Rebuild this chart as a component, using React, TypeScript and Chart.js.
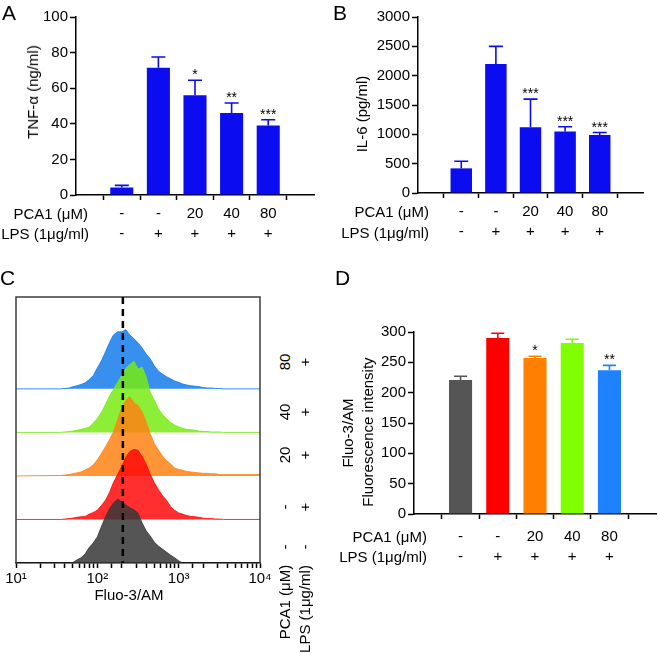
import React, { useEffect, useRef } from 'react';
import { Chart, registerables } from 'chart.js';
Chart.register(...registerables);

// ---------- data ----------
const PCA1_DOSES = ['-', '-', '20', '40', '80'];
const LPS_FLAGS = ['-', '+', '+', '+', '+'];

const TNF_MEAN = [4.2, 71.5, 56, 46, 39];
const TNF_SD = [1.2, 6, 8.5, 5.7, 3.3];
const TNF_STARS = ['', '', '*', '**', '***'];

const IL6_MEAN = [420, 2200, 1120, 1050, 990];
const IL6_SD = [120, 300, 480, 80, 40];
const IL6_STARS = ['', '', '***', '***', '***'];

const FLUO_MEAN = [221, 290, 257, 282, 237];
const FLUO_SD = [6, 8, 3, 6, 8];
const FLUO_STARS = ['', '', '*', '', '**'];

// flow cytometry histogram bins (Fluo-3/AM intensity) and counts per lane
const FLUO_BINS = [10, 35, 40, 45, 50, 56, 63, 71, 79, 89, 100, 112, 126, 141, 158, 178, 200, 224, 251, 282, 316, 355, 398, 447, 501, 562, 631, 708, 794, 891, 1000, 1122, 1259, 1413, 1585, 1778, 1995, 2239, 2512, 2818, 3162, 3548, 10000];
const HIST_CTRL = [0, 0, 0, 0, 1, 7, 12, 21, 35, 46, 60, 83, 106, 124, 138, 147, 140, 133, 127, 122, 115, 92, 74, 62, 48, 39, 32, 25, 18, 12, 5, 0, 0, 0, 0, 0, 0, 0, 0, 0, 0, 0, 0];
const HIST_LPS = [0, 0, 1, 2, 3, 5, 6, 7, 12, 16, 21, 32, 44, 62, 85, 104, 122, 143, 156, 161, 159, 145, 127, 104, 85, 69, 55, 44, 30, 21, 15, 12, 9, 7, 6, 5, 3, 2, 2, 1, 1, 0, 0];
const HIST_PCA20 = [0, 1, 2, 3, 5, 7, 9, 14, 18, 25, 37, 51, 67, 83, 101, 129, 156, 173, 182, 168, 161, 147, 124, 97, 74, 60, 46, 35, 28, 18, 15, 13, 10, 9, 8, 7, 6, 6, 5, 5, 3, 3, 3];
const HIST_PCA40 = [0, 0, 1, 2, 3, 5, 7, 9, 12, 21, 32, 46, 64, 83, 99, 115, 131, 147, 156, 163, 145, 150, 127, 92, 74, 55, 41, 32, 23, 17, 13, 9, 7, 6, 5, 3, 2, 2, 1, 1, 1, 0, 0];
const HIST_PCA80 = [0, 0, 1, 2, 5, 7, 10, 14, 21, 30, 48, 64, 85, 106, 124, 131, 131, 136, 124, 115, 106, 94, 80, 69, 53, 41, 34, 28, 23, 18, 15, 11, 9, 7, 6, 5, 3, 2, 2, 1, 1, 0, 0];
const HIST_LANE_STEP = 100;
const HIST_Y_MAX = 611;
const GATE_VALUE = 206;
const FLUO_DECADES = [10, 100, 1000, 10000];
const FLUO_DECADE_LABELS = ['10\u00b9', '10\u00b2', '10\u00b3', '10\u2074'];

// ---------- styles ----------
const FONT = "'Liberation Sans', Arial, Helvetica, sans-serif";
const BLUE_AB = 'rgb(12,12,240)';
const D_COLORS = ['rgb(85,85,85)', 'rgb(255,0,0)', 'rgb(255,128,0)', 'rgb(128,255,0)', 'rgb(30,130,255)'];
const HIST_FILL = ['rgba(55,55,55,0.85)', 'rgba(255,10,10,0.85)', 'rgba(255,130,20,0.85)', 'rgba(120,235,20,0.85)', 'rgba(20,125,235,0.85)'];

function errorPlugin(means: number[], sds: number[], stars: string[], colors: string[], cap: number) {
  return {
    id: 'errbars',
    afterDatasetsDraw(chart: any) {
      const meta = chart.getDatasetMeta(0);
      const ys = chart.scales.y;
      const ctx = chart.ctx;
      ctx.save();
      meta.data.forEach((bar: any, i: number) => {
        const top = ys.getPixelForValue(means[i] + sds[i]);
        const base = ys.getPixelForValue(means[i]);
        ctx.strokeStyle = colors[i];
        ctx.lineWidth = 1.6;
        ctx.beginPath();
        ctx.moveTo(bar.x, base);
        ctx.lineTo(bar.x, top);
        ctx.moveTo(bar.x - cap / 2, top);
        ctx.lineTo(bar.x + cap / 2, top);
        ctx.stroke();
        if (stars[i]) {
          ctx.fillStyle = '#000';
          ctx.font = `14px ${FONT}`;
          ctx.textAlign = 'center';
          ctx.textBaseline = 'alphabetic';
          ctx.fillText(stars[i], bar.x, top - 1);
        }
      });
      ctx.restore();
    },
  };
}

function barConfig(o: any) {
  const colors = Array.isArray(o.colors) ? o.colors : o.means.map(() => o.colors);
  return {
    type: 'bar',
    data: {
      datasets: [
        {
          data: o.means.map((m: number, i: number) => ({ x: i, y: m })),
          backgroundColor: colors,
          borderWidth: 0,
          categoryPercentage: 1,
          barPercentage: o.barPct,
        },
      ],
    },
    options: {
      responsive: false,
      animation: false,
      events: [],
      layout: { padding: { top: o.padTop, right: o.padRight, left: 0, bottom: 0 } },
      plugins: { legend: { display: false }, tooltip: { enabled: false } },
      scales: {
        x: {
          type: 'linear',
          min: -0.6,
          max: 4.6,
          grid: { drawOnChartArea: false, drawTicks: true, tickLength: 5, tickWidth: 1.5, tickColor: '#000' },
          border: { color: '#000', width: 1.5 },
          ticks: {
            stepSize: 1,
            includeBounds: false,
            autoSkip: false,
            maxRotation: 0,
            padding: o.labelPad,
            color: '#000',
            font: { family: FONT, size: 15, lineHeight: '20px' },
            callback: (v: number) =>
              Number.isInteger(v) && v >= 0 && v < PCA1_DOSES.length ? [PCA1_DOSES[v], LPS_FLAGS[v]] : '',
          },
          afterFit: (s: any) => {
            s.height = o.xHeight;
          },
        },
        y: {
          min: 0,
          max: o.yMax,
          grid: { drawOnChartArea: false, drawTicks: true, tickLength: 6, tickWidth: 1.5, tickColor: '#000' },
          border: { color: '#000', width: 1.5 },
          ticks: {
            stepSize: o.yStep,
            padding: 2,
            color: '#000',
            font: { family: FONT, size: 15 },
            callback: (v: number) => String(v),
          },
          afterFit: (s: any) => {
            s.width = o.yWidth;
          },
        },
      },
    },
    plugins: [errorPlugin(o.means, o.sds, o.stars, colors, o.cap)],
  };
}

function histConfig() {
  const lanes = [HIST_CTRL, HIST_LPS, HIST_PCA20, HIST_PCA40, HIST_PCA80];
  const framePlugin = {
    id: 'frame',
    afterDatasetsDraw(chart: any) {
      const { ctx, chartArea: a } = chart;
      const xs = chart.scales.x;
      ctx.save();
      ctx.strokeStyle = '#3c3c3c';
      ctx.lineWidth = 1.5;
      ctx.beginPath();
      ctx.moveTo(a.left, a.bottom);
      ctx.lineTo(a.left, a.top);
      ctx.lineTo(a.right, a.top);
      ctx.lineTo(a.right, a.bottom);
      ctx.stroke();
      const gx = xs.getPixelForValue(GATE_VALUE);
      ctx.strokeStyle = '#000';
      ctx.lineWidth = 2.5;
      ctx.setLineDash([7, 5]);
      ctx.beginPath();
      ctx.moveTo(gx, a.top);
      ctx.lineTo(gx, a.bottom);
      ctx.stroke();
      ctx.restore();
    },
  };
  return {
    type: 'line',
    data: {
      datasets: lanes.map((h, k) => ({
        data: FLUO_BINS.map((x, j) => ({ x, y: k * HIST_LANE_STEP + h[j] })),
        fill: { value: k * HIST_LANE_STEP },
        backgroundColor: HIST_FILL[k],
        borderColor: HIST_FILL[k],
        borderWidth: 1,
        pointRadius: 0,
        tension: 0,
        order: k,
      })),
    },
    options: {
      responsive: false,
      animation: false,
      events: [],
      layout: { padding: { top: 12, left: 16, right: 15, bottom: 0 } },
      plugins: { legend: { display: false }, tooltip: { enabled: false } },
      scales: {
        x: {
          type: 'logarithmic',
          min: 10,
          max: 10000,
          grid: { drawOnChartArea: false, drawTicks: true, tickLength: 5, tickWidth: 1.5, tickColor: '#000' },
          border: { color: '#000', width: 1.5 },
          ticks: {
            autoSkip: false,
            maxRotation: 0,
            padding: 2,
            color: '#000',
            font: { family: FONT, size: 15 },
            callback: (v: number) => {
              const i = FLUO_DECADES.findIndex((d) => Math.abs(d - v) < d * 1e-6);
              return i >= 0 ? FLUO_DECADE_LABELS[i] : '';
            },
          },
          afterFit: (s: any) => {
            s.height = 52;
          },
        },
        y: { display: false, min: 0, max: HIST_Y_MAX },
      },
    },
    plugins: [framePlugin],
  };
}

const txt: React.CSSProperties = {
  position: 'absolute',
  fontFamily: FONT,
  fontSize: 15,
  color: '#000',
  whiteSpace: 'nowrap',
  lineHeight: '20px',
};

function RightLabel({ rx, cy, children }: any) {
  return (
    <div style={{ ...txt, right: 658 - rx, top: cy - 10, textAlign: 'right' }}>{children}</div>
  );
}
function CenterLabel({ cx, cy, rotate, size, children }: any) {
  return (
    <div
      style={{
        ...txt,
        fontSize: size || 15,
        left: cx,
        top: cy,
        transform: `translate(-50%,-50%)${rotate ? ' rotate(-90deg)' : ''}`,
      }}
    >
      {children}
    </div>
  );
}
function Letter({ x, y, children }: any) {
  return <div style={{ ...txt, fontSize: 21, lineHeight: '24px', left: x, top: y }}>{children}</div>;
}

export default function App() {
  const aRef = useRef<HTMLCanvasElement>(null);
  const bRef = useRef<HTMLCanvasElement>(null);
  const cRef = useRef<HTMLCanvasElement>(null);
  const dRef = useRef<HTMLCanvasElement>(null);

  useEffect(() => {
    const charts: Chart[] = [];
    charts.push(
      new Chart(aRef.current as any, barConfig({
        means: TNF_MEAN, sds: TNF_SD, stars: TNF_STARS, colors: BLUE_AB, yMax: 100, yStep: 20,
        yWidth: 76, xHeight: 55, padTop: 17, padRight: 15, labelPad: 4, barPct: 0.63, cap: 14,
      }) as any)
    );
    charts.push(
      new Chart(bRef.current as any, barConfig({
        means: IL6_MEAN, sds: IL6_SD, stars: IL6_STARS, colors: BLUE_AB, yMax: 3000, yStep: 500,
        yWidth: 89, xHeight: 57, padTop: 17, padRight: 15, labelPad: 4, barPct: 0.62, cap: 14,
      }) as any)
    );
    charts.push(new Chart(cRef.current as any, histConfig() as any));
    charts.push(
      new Chart(dRef.current as any, barConfig({
        means: FLUO_MEAN, sds: FLUO_SD, stars: FLUO_STARS, colors: D_COLORS, yMax: 300, yStep: 50,
        yWidth: 85, xHeight: 56, padTop: 32, padRight: 2, labelPad: 8, barPct: 0.62, cap: 13,
      }) as any)
    );
    return () => charts.forEach((c) => c.destroy());
  }, []);

  const cv = (l: number, t: number): React.CSSProperties => ({ position: 'absolute', left: l, top: t });
  const cPca = ['80', '40', '20', '-', '-'];
  const cLps = ['+', '+', '+', '+', '-'];
  const cRows = [362, 412, 455, 507, 547];

  return (
    <div style={{ position: 'absolute', left: 0, top: 0, width: 658, height: 653, background: '#fff', overflow: 'hidden' }}>
      <canvas ref={aRef} width={329} height={250} style={cv(0, 0)} />
      <canvas ref={bRef} width={329} height={250} style={cv(329, 0)} />
      <canvas ref={cRef} width={275} height={330} style={cv(0, 285)} />
      <canvas ref={dRef} width={329} height={270} style={cv(329, 300)} />

      <Letter x={2} y={1}>A</Letter>
      <Letter x={333} y={1}>B</Letter>
      <Letter x={0} y={266}>C</Letter>
      <Letter x={335} y={266}>D</Letter>

      <CenterLabel cx={33} cy={92} rotate>TNF-α (ng/ml)</CenterLabel>
      <CenterLabel cx={362} cy={114} rotate>IL-6 (pg/ml)</CenterLabel>
      <CenterLabel cx={348} cy={433} rotate>Fluo-3/AM</CenterLabel>
      <CenterLabel cx={368} cy={432} rotate>Fluorescence intensity</CenterLabel>

      <RightLabel rx={88} cy={214}>PCA1 (μM)</RightLabel>
      <RightLabel rx={89} cy={234}>LPS (1μg/ml)</RightLabel>
      <RightLabel rx={429} cy={212}>PCA1 (μM)</RightLabel>
      <RightLabel rx={429} cy={233}>LPS (1μg/ml)</RightLabel>
      <RightLabel rx={427} cy={537}>PCA1 (μM)</RightLabel>
      <RightLabel rx={427} cy={557}>LPS (1μg/ml)</RightLabel>

      <CenterLabel cx={129} cy={595}>Fluo-3/AM</CenterLabel>
      {cRows.map((y, i) => (
        <React.Fragment key={i}>
          <CenterLabel cx={285} cy={y} rotate>{cPca[i]}</CenterLabel>
          <CenterLabel cx={305} cy={y} rotate>{cLps[i]}</CenterLabel>
        </React.Fragment>
      ))}
      <CenterLabel cx={285} cy={602} rotate>PCA1 (μM)</CenterLabel>
      <CenterLabel cx={305} cy={609} rotate>LPS (1μg/ml)</CenterLabel>
    </div>
  );
}
